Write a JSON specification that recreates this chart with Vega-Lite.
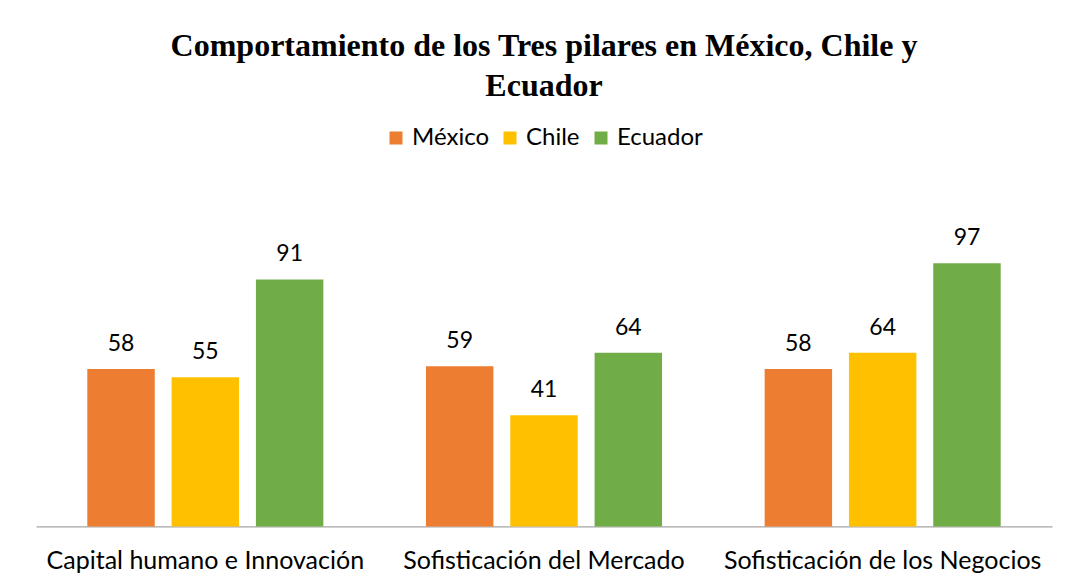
{
  "$schema": "https://vega.github.io/schema/vega-lite/v6.json",
  "autosize": {"type": "none"},
  "width": 1016,
  "height": 271.4,
  "padding": {"left": 36, "top": 255, "right": 21, "bottom": 59.6},
  "background": "white",
  "title": {
    "text": ["Comportamiento de los Tres pilares en México, Chile y", "Ecuador"],
    "font": "Liberation Serif",
    "fontSize": 32,
    "fontWeight": "bold",
    "color": "#000000",
    "lineHeight": 40,
    "anchor": "middle",
    "offset": 23
  },
  "data": {
    "values": [
      {"pilar": "Capital humano e Innovación", "pais": "México", "valor": 58},
      {"pilar": "Capital humano e Innovación", "pais": "Chile", "valor": 55},
      {"pilar": "Capital humano e Innovación", "pais": "Ecuador", "valor": 91},
      {"pilar": "Sofisticación del Mercado", "pais": "México", "valor": 59},
      {"pilar": "Sofisticación del Mercado", "pais": "Chile", "valor": 41},
      {"pilar": "Sofisticación del Mercado", "pais": "Ecuador", "valor": 64},
      {"pilar": "Sofisticación de los Negocios", "pais": "México", "valor": 58},
      {"pilar": "Sofisticación de los Negocios", "pais": "Chile", "valor": 64},
      {"pilar": "Sofisticación de los Negocios", "pais": "Ecuador", "valor": 97}
    ]
  },
  "encoding": {
    "x": {
      "field": "pilar",
      "type": "nominal",
      "sort": null,
      "title": null,
      "scale": {"paddingInner": 0.303, "paddingOuter": 0.1515},
      "axis": {
        "labelAngle": 0,
        "labelFont": "Lato",
        "labelFontSize": 25,
        "labelColor": "#000000",
        "labelPadding": 22,
        "labelLimit": 0,
        "ticks": false,
        "domainColor": "#a6a6a6",
        "domainWidth": 1.3,
        "grid": false
      }
    },
    "xOffset": {
      "field": "pais",
      "type": "nominal",
      "sort": ["México", "Chile", "Ecuador"],
      "scale": {"paddingInner": 0.2, "paddingOuter": 0}
    },
    "y": {
      "field": "valor",
      "type": "quantitative",
      "scale": {"domain": [0, 100]},
      "axis": null
    }
  },
  "layer": [
    {
      "mark": {"type": "bar"},
      "encoding": {
        "color": {
          "field": "pais",
          "type": "nominal",
          "sort": ["México", "Chile", "Ecuador"],
          "scale": {"domain": ["México", "Chile", "Ecuador"], "range": ["#ED7D31", "#FFC000", "#70AD47"]},
          "legend": {
            "orient": "none",
            "legendX": 348,
            "legendY": -129,
            "direction": "horizontal",
            "title": null,
            "symbolType": "square",
            "symbolSize": 169,
            "symbolStrokeWidth": 0,
            "labelFont": "Lato",
            "labelFontSize": 24,
            "labelColor": "#000000",
            "labelOffset": 4,
            "columnPadding": 9
          }
        }
      }
    },
    {
      "mark": {"type": "text", "baseline": "alphabetic", "dy": -18, "font": "Lato", "fontSize": 23, "color": "#000000"},
      "encoding": {
        "text": {"field": "valor", "type": "quantitative"}
      }
    }
  ],
  "config": {"view": {"stroke": null}}
}
